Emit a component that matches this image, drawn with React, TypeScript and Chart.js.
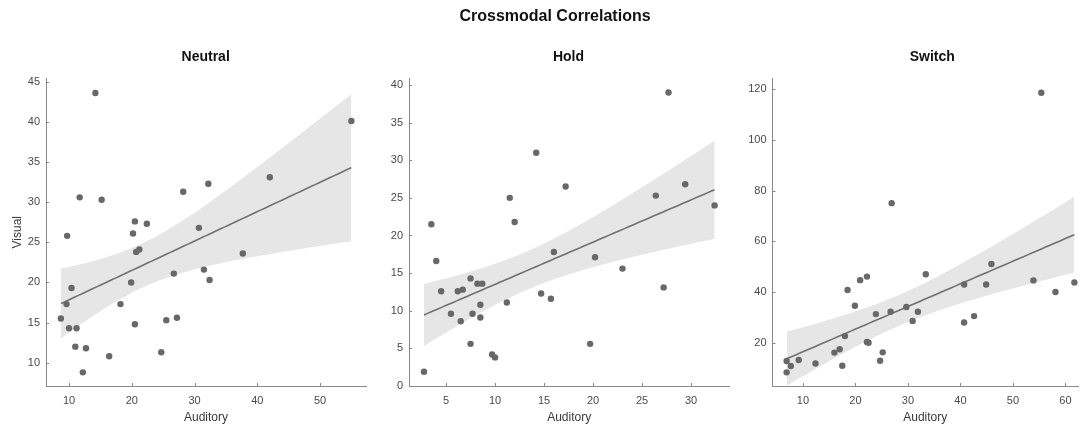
import React, { useEffect, useRef } from "react";
import { Chart, registerables } from "chart.js";

Chart.register(...registerables);

// ---------- data ----------
const neutralX = [8.7, 9.6, 9.7, 10.0, 10.4, 11.0, 11.2, 11.7, 12.2, 12.7, 14.2, 15.2, 16.4, 18.2, 19.9, 20.2, 20.5, 20.5, 20.7, 21.2, 22.4, 24.7, 25.5, 26.7, 27.2, 28.2, 30.7, 31.5, 32.2, 32.4, 37.7, 42.0, 55.0];
const neutralY = [15.5, 17.3, 25.8, 14.3, 19.3, 12.0, 14.3, 30.6, 8.8, 11.8, 43.6, 30.3, 10.8, 17.3, 20.0, 26.1, 27.6, 14.8, 23.8, 24.1, 27.3, 11.3, 15.3, 21.1, 15.6, 31.3, 26.8, 21.6, 32.3, 20.3, 23.6, 33.1, 40.1];

const holdX = [2.75, 3.5, 4.0, 4.5, 5.5, 6.2, 6.5, 6.7, 7.5, 7.5, 7.7, 8.2, 8.7, 8.5, 8.5, 9.7, 10.0, 11.2, 11.5, 12.0, 14.2, 14.7, 15.7, 16.0, 17.2, 19.7, 20.2, 23.0, 26.4, 27.2, 27.7, 29.4, 32.4];
const holdY = [1.9, 21.5, 16.6, 12.6, 9.6, 12.6, 8.6, 12.8, 14.3, 5.6, 9.6, 13.6, 13.6, 10.8, 9.1, 4.2, 3.8, 11.1, 25.0, 21.8, 31.0, 12.3, 11.6, 17.8, 26.5, 5.6, 17.1, 15.6, 25.3, 13.1, 39.0, 26.8, 24.0];

const switchX = [6.9, 6.9, 7.7, 9.2, 12.4, 16.0, 17.0, 17.5, 18.0, 18.5, 19.9, 20.9, 22.2, 22.2, 22.5, 23.9, 24.7, 25.2, 26.7, 26.9, 29.7, 30.9, 31.9, 33.4, 40.7, 40.7, 42.6, 44.9, 45.9, 53.9, 55.4, 58.1, 61.7];
const switchY = [12.8, 8.3, 10.8, 13.2, 11.8, 16.1, 17.4, 10.9, 22.6, 40.8, 34.6, 44.7, 46.1, 20.3, 20.0, 31.3, 12.9, 16.2, 32.2, 75.1, 34.1, 28.6, 32.2, 47.0, 43.0, 28.0, 30.5, 43.0, 51.1, 44.6, 118.7, 40.0, 43.8];

// tick values
const neutralXTicks = [10, 20, 30, 40, 50];
const neutralYTicks = [10, 15, 20, 25, 30, 35, 40, 45];
const holdXTicks = [5, 10, 15, 20, 25, 30];
const holdYTicks = [0, 5, 10, 15, 20, 25, 30, 35, 40];
const switchXTicks = [10, 20, 30, 40, 50, 60];
const switchYTicks = [20, 40, 60, 80, 100, 120];

// axis limits
const neutralXRange = [6.33, 57.33];
const neutralYRange = [7.1, 45.4];
const holdXRange = [1.22, 33.9];
const holdYRange = [0, 40.86];
const switchXRange = [4.21, 62.39];
const switchYRange = [2.91, 124.3];

const TITLE = "Crossmodal Correlations";
const PANEL_TITLES = ["Neutral", "Hold", "Switch"];
const X_LABEL = "Auditory";
const Y_LABEL = "Visual";

// ---------- styles ----------
const FONT = '"Liberation Sans", Arial, Helvetica, sans-serif';
const AXIS_COLOR = "#8a8a8a";
const TICK_COLOR = "#4a4a4a";
const LABEL_COLOR = "#3a3a3a";
const POINT_COLOR = "#686868";
const LINE_COLOR = "#707070";
const BAND_COLOR = "#e6e6e6";

// ---------- regression fit (OLS + 95% confidence band, derived from the data) ----------
function tQuantile975(df: number) {
  const z = 1.959964;
  return (
    z +
    (z ** 3 + z) / (4 * df) +
    (5 * z ** 5 + 16 * z ** 3 + 3 * z) / (96 * df * df) +
    (3 * z ** 7 + 19 * z ** 5 + 17 * z ** 3 - 15 * z) / (384 * df ** 3)
  );
}

function regression(xs: number[], ys: number[], samples = 80) {
  const n = xs.length;
  const mx = xs.reduce((a, b) => a + b, 0) / n;
  const my = ys.reduce((a, b) => a + b, 0) / n;
  let sxx = 0;
  let sxy = 0;
  for (let i = 0; i < n; i++) {
    sxx += (xs[i] - mx) ** 2;
    sxy += (xs[i] - mx) * (ys[i] - my);
  }
  const b = sxy / sxx;
  const a = my - b * mx;
  let sse = 0;
  for (let i = 0; i < n; i++) sse += (ys[i] - a - b * xs[i]) ** 2;
  const s = Math.sqrt(sse / (n - 2));
  const t = tQuantile975(n - 2);
  const x0 = Math.min(...xs);
  const x1 = Math.max(...xs);
  const line: { x: number; y: number }[] = [];
  const upper: { x: number; y: number }[] = [];
  const lower: { x: number; y: number }[] = [];
  for (let k = 0; k <= samples; k++) {
    const x = x0 + ((x1 - x0) * k) / samples;
    const yh = a + b * x;
    const h = t * s * Math.sqrt(1 / n + (x - mx) ** 2 / sxx);
    line.push({ x, y: yh });
    upper.push({ x, y: yh + h });
    lower.push({ x, y: yh - h });
  }
  return { line, upper, lower };
}

const inwardTicks = {
  id: "inwardTicks",
  beforeDatasetsDraw(chart: any) {
    const { ctx, chartArea } = chart;
    const xs = chart.scales.x;
    const ys = chart.scales.y;
    ctx.save();
    ctx.strokeStyle = AXIS_COLOR;
    ctx.lineWidth = 1;
    xs.ticks.forEach((t: any) => {
      const px = Math.round(xs.getPixelForValue(t.value)) + 0.5;
      ctx.beginPath();
      ctx.moveTo(px, chartArea.bottom);
      ctx.lineTo(px, chartArea.bottom - 3);
      ctx.stroke();
    });
    ys.ticks.forEach((t: any) => {
      const py = Math.round(ys.getPixelForValue(t.value)) + 0.5;
      ctx.beginPath();
      ctx.moveTo(chartArea.left, py);
      ctx.lineTo(chartArea.left + 3, py);
      ctx.stroke();
    });
    ctx.restore();
  },
};

type PanelProps = {
  xs: number[];
  ys: number[];
  xTicks: number[];
  yTicks: number[];
  xRange: number[];
  yRange: number[];
  left: number;
  width: number;
  yAxisWidth: number;
  padRight: number;
  showYTitle: boolean;
};

const CANVAS_H = 425;
const AREA_TOP = 78.5;
const AREA_BOTTOM = 386;

function Panel(p: PanelProps) {
  const ref = useRef<HTMLCanvasElement>(null);
  useEffect(() => {
    if (!ref.current) return;
    const fit = regression(p.xs, p.ys);
    const points = p.xs.map((x, i) => ({ x, y: p.ys[i] }));
    const chart = new Chart(ref.current, {
      type: "scatter",
      data: {
        datasets: [
          {
            type: "scatter",
            data: points,
            pointRadius: 3.2,
            pointBackgroundColor: POINT_COLOR,
            pointBorderWidth: 0,
            pointBorderColor: "rgba(0,0,0,0)",
            order: 0,
          } as any,
          {
            type: "line",
            data: fit.line,
            borderColor: LINE_COLOR,
            borderWidth: 1.6,
            pointRadius: 0,
            fill: false,
            tension: 0,
            order: 1,
          } as any,
          {
            type: "line",
            data: fit.upper,
            borderColor: "rgba(0,0,0,0)",
            borderWidth: 0,
            pointRadius: 0,
            backgroundColor: BAND_COLOR,
            fill: "+1",
            tension: 0,
            order: 2,
          } as any,
          {
            type: "line",
            data: fit.lower,
            borderColor: "rgba(0,0,0,0)",
            borderWidth: 0,
            pointRadius: 0,
            fill: false,
            tension: 0,
            order: 3,
          } as any,
        ],
      },
      options: {
        animation: false,
        responsive: false,
        events: [],
        layout: {
          padding: { top: AREA_TOP, left: 0, right: p.padRight, bottom: 0 },
        },
        plugins: {
          legend: { display: false },
          tooltip: { enabled: false },
          title: { display: false },
        },
        scales: {
          x: {
            type: "linear",
            min: p.xRange[0],
            max: p.xRange[1],
            afterBuildTicks: (s: any) => {
              s.ticks = p.xTicks.map((v) => ({ value: v }));
            },
            afterFit: (s: any) => {
              s.height = CANVAS_H - AREA_BOTTOM;
            },
            grid: { display: false, drawTicks: false },
            border: { display: true, color: AXIS_COLOR, width: 1 },
            ticks: {
              color: TICK_COLOR,
              font: { family: FONT, size: 11 },
              padding: 8,
              maxRotation: 0,
              autoSkip: false,
            },
            title: {
              display: true,
              text: X_LABEL,
              color: LABEL_COLOR,
              font: { family: FONT, size: 12 },
              padding: { top: 0, bottom: 0 },
            },
          },
          y: {
            type: "linear",
            min: p.yRange[0],
            max: p.yRange[1],
            afterBuildTicks: (s: any) => {
              s.ticks = p.yTicks.map((v) => ({ value: v }));
            },
            afterFit: (s: any) => {
              s.width = p.yAxisWidth;
            },
            grid: { display: false, drawTicks: false },
            border: { display: true, color: AXIS_COLOR, width: 1 },
            ticks: {
              color: TICK_COLOR,
              font: { family: FONT, size: 11 },
              padding: 6,
              autoSkip: false,
            },
            title: {
              display: p.showYTitle,
              text: Y_LABEL,
              color: LABEL_COLOR,
              font: { family: FONT, size: 12 },
              padding: { top: 10, bottom: 0 },
            },
          },
        },
      },
      plugins: [inwardTicks],
    } as any);
    return () => chart.destroy();
  }, []);
  return (
    <canvas
      ref={ref}
      width={p.width}
      height={CANVAS_H}
      style={{ position: "absolute", left: p.left, top: 0, width: p.width, height: CANVAS_H }}
    />
  );
}

function Title({ text, cx, top, size }: { text: string; cx: number; top: number; size: number }) {
  return (
    <div
      style={{
        position: "absolute",
        left: cx - 200,
        width: 400,
        top,
        textAlign: "center",
        fontFamily: FONT,
        fontWeight: "bold",
        fontSize: size,
        lineHeight: "20px",
        color: "#111",
        whiteSpace: "nowrap",
      }}
    >
      {text}
    </div>
  );
}

export default function App() {
  return (
    <div
      style={{
        position: "fixed",
        left: 0,
        top: 0,
        width: 1082,
        height: 425,
        background: "#fff",
        overflow: "hidden",
      }}
    >
      <Panel
        xs={neutralX}
        ys={neutralY}
        xTicks={neutralXTicks}
        yTicks={neutralYTicks}
        xRange={neutralXRange}
        yRange={neutralYRange}
        left={0}
        width={372}
        yAxisWidth={46}
        padRight={6}
        showYTitle={true}
      />
      <Panel
        xs={holdX}
        ys={holdY}
        xTicks={holdXTicks}
        yTicks={holdYTicks}
        xRange={holdXRange}
        yRange={holdYRange}
        left={372}
        width={368}
        yAxisWidth={37}
        padRight={10.7}
        showYTitle={false}
      />
      <Panel
        xs={switchX}
        ys={switchY}
        xTicks={switchXTicks}
        yTicks={switchYTicks}
        xRange={switchXRange}
        yRange={switchYRange}
        left={740}
        width={342}
        yAxisWidth={32.5}
        padRight={0}
        showYTitle={false}
      />
      <Title text={TITLE} cx={555} top={6} size={16} />
      <Title text={PANEL_TITLES[0]} cx={205.7} top={45.5} size={14} />
      <Title text={PANEL_TITLES[1]} cx={568.5} top={45.5} size={14} />
      <Title text={PANEL_TITLES[2]} cx={932.3} top={45.5} size={14} />
    </div>
  );
}
